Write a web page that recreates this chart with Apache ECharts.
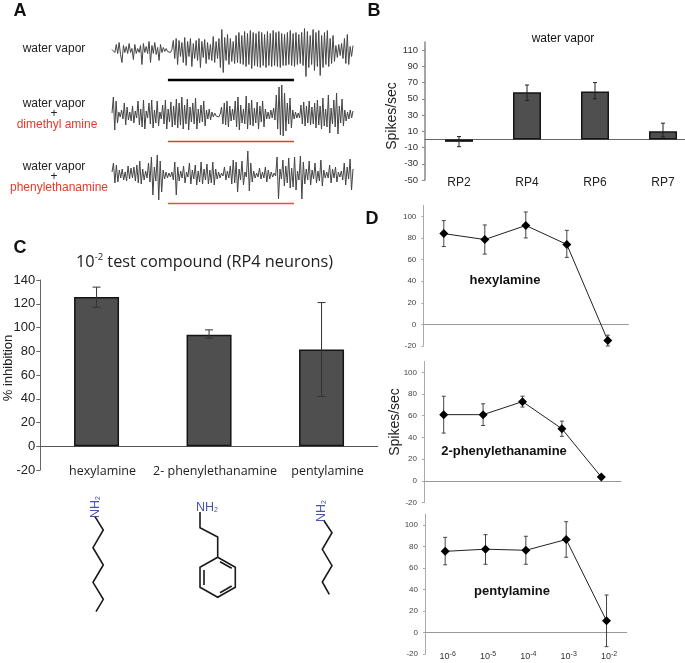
<!DOCTYPE html>
<html><head><meta charset="utf-8">
<style>html,body{margin:0;padding:0;background:#fff}#c{width:685px;height:663px}</style>
<script src="https://cdn.jsdelivr.net/npm/echarts@6/dist/echarts.min.js"></script>
</head><body><div id="c"></div>
<script>
// ---------- Panel A: recordings
const traceVapor = [1,3,-2,6,-3,8,-4,-12,5,-2,4,-3,7,-2,2,-9,6,-3,2,-2,5,-14,7,-2,4,-3,9,-12,5,-3,8,-4,3,-10,6,-2,3,-1,2,-1,1,-2,1,
10,-8,12,-14,10,-6,8,-12,13,-15,9,-6,12,-16,7,-8,10,-10,12,-17,9,-7,11,-13,8,-9,6,-10,14,-12,9,-8,12,-17,21,-22,13,-10,16,-14,12,-11,9,-13,15,-12,
18,-13,15,-14,19,-16,17,-14,20,-18,18,-15,17,-16,19,-17,18,-15,16,-17,19,-15,17,-16,20,-15,18,-16,19,-17,17,-15,16,-15,18,-14,20,-15,17,-16,18,-14,16,-13,18,-15,22,-26,19,-17,15,-14,21,-20,18,-16,20,-25,15,-17,18,-14,20,-16,12,-13,15,-11,5,-7,6,-5,7,-8,12,-13,16,-14,4,-6,5];
const traceDimethyl = [2,18,-15,14,-8,3,-2,5,-4,12,-10,8,-5,3,-6,9,-8,4,-3,14,-10,6,-12,15,-14,4,-3,12,-9,15,-13,5,-8,14,-11,3,-4,10,-9,15,-14,6,-7,13,-12,9,-10,16,-13,12,-10,18,-14,10,-9,16,-15,8,-7,12,-9,17,-14,6,-8,10,-7,14,-11,5,-4,6,-5,3,-2,2,-1,1,-2,1,8,-9,12,-10,14,-12,9,-6,6,-5,14,-12,18,-15,10,-8,6,-9,19,-14,12,-10,15,-11,7,-8,13,-14,9,-7,14,-12,6,-4,3,-4,5,-3,7,-5,20,-14,28,-20,30,-21,22,-16,12,-9,17,-13,5,-4,3,-3,2,-3,10,-9,13,-11,9,-8,14,-10,8,-9,12,-13,15,-10,9,-14,17,-11,6,-12,20,-18,7,-9,15,-12,22,-19,9,-8,16,-11,5,-6,3,-4,5,-3,4];
const tracePhenyl = [3,12,-8,10,-7,5,-3,6,-5,3,-6,9,-4,7,-3,8,-6,10,-8,14,-9,6,-5,4,-3,12,-7,18,-20,8,-6,20,-25,14,-17,5,-4,3,-3,2,-2,3,-5,13,-20,8,-6,4,-3,9,-8,3,-2,12,-9,5,-4,10,-10,4,-7,13,-9,6,-5,11,-9,5,-8,13,-10,6,-4,3,-3,2,-1,8,-5,4,-3,9,-9,15,-8,13,-17,6,-5,14,-10,3,-2,24,-16,12,-7,4,-3,2,-2,7,-4,3,-3,8,-7,5,-4,3,-2,2,-1,18,-24,6,-4,15,-11,9,-8,17,-13,7,-12,18,-15,4,-5,19,-24,13,-9,6,-5,14,-10,5,-4,12,-8,4,-6,15,-11,5,-3,3,-3,10,-8,6,-3,8,-7,3,-2,4,-5,12,-10,8,-4,16,-15,6];
const stimulusWindow = [0.232, 0.755];

// ---------- Panel B
const neurons = ['RP2','RP4','RP6','RP7'];
const vaporMean = [-3,58,59,10];
const vaporLow  = [-9,48,50,3];
const vaporHigh = [3.5,67,70,20];
const vaporTicks = [-50,-30,-10,10,30,50,70,90,110];

// ---------- Panel C
const compounds = ['hexylamine','2- phenylethanamine','pentylamine'];
const inhibMean = [125.6,94,81.5];
const inhibLow  = [117,91,42];
const inhibHigh = [134,98,121];

// ---------- Panel D
const doses = ['-6','-5','-4','-3','-2'];
const doseTicks = [-20,0,20,40,60,80,100];
const hexMean = [84,78.5,91.5,74,-15];
const hexLow  = [72,65,80,62,-20];
const hexHigh = [96,92,104,87,-10];
const pheMean = [61,61,73,48,3.5];
const pheLow  = [44,51,68,41,2];
const pheHigh = [78,71,78,55,5];
const penMean = [75.5,77.5,76.5,86.5,11];
const penLow  = [63,63.5,63.5,70,-13];
const penHigh = [88.5,91,89.5,103,35];

const SANS = '"Liberation Sans", Arial, sans-serif';
const grids = [], xAxes = [], yAxes = [], series = [];

function errorSeries(g, low, high, color, cap, w) {
  return {
    type:'custom', xAxisIndex:g, yAxisIndex:g, z:5, silent:true, clip:false,
    encode:{x:0,y:[1,2]},
    data: low.map((l,i)=>[i,l,high[i]]),
    renderItem(params, api){
      const a = api.coord([api.value(0), api.value(1)]);
      const b = api.coord([api.value(0), api.value(2)]);
      const st = {stroke:color, lineWidth:w, fill:null};
      return {type:'group', children:[
        {type:'line', shape:{x1:a[0],y1:a[1],x2:b[0],y2:b[1]}, style:st},
        {type:'line', shape:{x1:a[0]-cap,y1:a[1],x2:a[0]+cap,y2:a[1]}, style:st},
        {type:'line', shape:{x1:b[0]-cap,y1:b[1],x2:b[0]+cap,y2:b[1]}, style:st}
      ]};
    }
  };
}

// Panel A grids
[[traceVapor,50.5,'#000',2.5,-29.5],[traceDimethyl,115,'#e8392b',1.5,-26.5],[tracePhenyl,175,'#e8503f',1.5,-28.5]].forEach(([tr,cy,col,w,lvl])=>{
  const g = grids.length, n = tr.length-1;
  grids.push({left:112, width:241, top:cy-35, height:70, outerBoundsMode:'none'});
  xAxes.push({gridIndex:g, type:'value', min:0, max:n, show:false});
  yAxes.push({gridIndex:g, type:'value', min:-35, max:35, show:false});
  series.push({type:'line', xAxisIndex:g, yAxisIndex:g, showSymbol:false, silent:true,
    data:tr.map((v,i)=>[i,v]), lineStyle:{color:'#444', width:1}});
  series.push({type:'line', xAxisIndex:g, yAxisIndex:g, showSymbol:false, silent:true,
    data:stimulusWindow.map(f=>[f*n,lvl]), lineStyle:{color:col, width:w}});
});

// Panel B
{
  const g = grids.length;
  grids.push({left:425, top:42, width:272, height:138, outerBoundsMode:'none'});
  xAxes.push({gridIndex:g, type:'category', data:neurons,
    axisLine:{onZero:true, lineStyle:{color:'#666', width:1}},
    axisTick:{length:2, lineStyle:{color:'#999'}},
    axisLabel:{margin:-3, fontFamily:SANS, fontSize:12, color:'#222'}});
  yAxes.push({gridIndex:g, type:'value', min:-50, max:120, splitLine:{show:false},
    name:'Spikes/sec', nameLocation:'middle', nameGap:26, nameMoveOverlap:false,
    nameTextStyle:{fontFamily:SANS, fontSize:14, color:'#222', padding:[0,10,0,0]},
    axisLine:{show:true, lineStyle:{color:'#888', width:1.5}},
    axisTick:{show:true, length:3, customValues:vaporTicks, lineStyle:{color:'#888'}},
    axisLabel:{customValues:vaporTicks, fontFamily:SANS, fontSize:9.5, color:'#333', margin:7}});
  series.push({type:'bar', xAxisIndex:g, yAxisIndex:g, data:vaporMean, barWidth:28, silent:true,
    itemStyle:{color:'#4f4f4f', borderColor:'#151515', borderWidth:1.5}});
  series.push(errorSeries(g, vaporLow, vaporHigh, '#222', 2, 1));
}

// Panel C
{
  const g = grids.length;
  grids.push({left:40.3, top:280, width:337.5, height:190, outerBoundsMode:'none'});
  xAxes.push({gridIndex:g, type:'category', data:compounds,
    axisLine:{onZero:true, lineStyle:{color:'#555', width:1}},
    axisTick:{length:3, lineStyle:{color:'#999'}},
    axisLabel:{margin:-5, interval:0, padding:[0,0,0,12], fontFamily:'"Open Sans", sans-serif', fontSize:12.5, color:'#222'}});
  yAxes.push({gridIndex:g, type:'value', min:-20, max:140, interval:20, splitLine:{show:false},
    name:'% inhibition', nameLocation:'middle', nameGap:25, nameMoveOverlap:false,
    nameTextStyle:{fontFamily:SANS, fontSize:13, color:'#222', padding:[0,0,0,14]},
    axisLine:{show:true, lineStyle:{color:'#666', width:1}},
    axisTick:{show:true, length:4, lineStyle:{color:'#666'}},
    axisLabel:{fontFamily:SANS, fontSize:13, color:'#222', margin:5}});
  series.push({type:'bar', xAxisIndex:g, yAxisIndex:g, data:inhibMean, barWidth:45, silent:true,
    itemStyle:{color:'#4f4f4f', borderColor:'#151515', borderWidth:1.5}});
  series.push(errorSeries(g, inhibLow, inhibHigh, '#333', 4, 1));
}

// Panel D
[[423.3,205.5,205,140.5,hexMean,hexLow,hexHigh,false],
 [424,361.5,197,141,pheMean,pheLow,pheHigh,false],
 [425,514.2,201.7,140,penMean,penLow,penHigh,true]].forEach(([l,t,w,h,m,lo,hi,lab],k)=>{
  const g = grids.length;
  grids.push({left:l, top:t, width:w, height:h, outerBoundsMode:'none'});
  xAxes.push({gridIndex:g, type:'category', data:doses,
    axisLine:{onZero:true, lineStyle:{color:'#999', width:1}},
    axisTick:{length:3, lineStyle:{color:'#888'}},
    axisLabel:{show:lab, interval:0, margin:-4, padding:[0,0,0,5], color:'#333', fontFamily:SANS, fontSize:9,
      formatter:v=>`{b|10}{s|${v}}`,
      rich:{b:{fontSize:9, fontFamily:SANS, color:'#333'}, s:{fontSize:7, fontFamily:SANS, color:'#333', padding:[0,0,5,0]}}}});
  yAxes.push({gridIndex:g, type:'value', min:-20, max:110, splitLine:{show:false},
    name:k===1?'Spikes/sec':'', nameLocation:'middle', nameGap:22, nameMoveOverlap:false,
    nameTextStyle:{fontFamily:SANS, fontSize:14, color:'#222', padding:[0,0,0,20]},
    axisLine:{show:true, lineStyle:{color:'#aaa', width:1}},
    axisTick:{show:true, length:2, customValues:doseTicks, lineStyle:{color:'#aaa'}},
    axisLabel:{customValues:doseTicks, fontFamily:SANS, fontSize:8, color:'#444', margin:7}});
  series.push(errorSeries(g, lo, hi, '#444', 2, 1));
  series.push({type:'line', xAxisIndex:g, yAxisIndex:g, data:m, silent:true, z:6,
    symbol:'diamond', symbolSize:9, showSymbol:true,
    itemStyle:{color:'#000'}, lineStyle:{color:'#222', width:1}});
});

// free text
const titleBits = [
  {text:'water vapor', x:563, y:39, size:12},
  {text:'hexylamine', x:505, y:280, size:13, bold:true},
  {text:'2-phenylethanamine', x:504, y:451, size:13, bold:true},
  {text:'pentylamine', x:512, y:591, size:13, bold:true}
];
const title = titleBits.map(t=>({
  text:t.text, left:t.x, top:t.y, textAlign:'center', textVerticalAlign:'middle', padding:0,
  textStyle:{fontFamily:SANS, fontSize:t.size, fontWeight:t.bold?'bold':'normal', color:'#111'}
}));
title.push({
  text:'{a|10}{s|-2}{a| test compound (RP4 neurons)}', left:204.5, top:262, textAlign:'center', textVerticalAlign:'middle', padding:0,
  textStyle:{fontWeight:'normal', rich:{a:{fontFamily:'"Open Sans", sans-serif', fontWeight:'normal', fontSize:16.3, color:'#222'},
    s:{fontFamily:'"Open Sans", sans-serif', fontWeight:'normal', fontSize:9.5, color:'#222', padding:[0,0,9,0]}}}
});

function label(text,x,y,size,color,weight){
  return {type:'text', x, y, silent:true, style:{text, fontFamily:SANS, fontSize:size, fontWeight:weight||'normal',
    fill:color||'#222', textAlign:'center', textVerticalAlign:'middle'}};
}
const RED = '#e8392b', BLUE = '#4a52b5', BOND = '#1a1a1a';
function bond(points){
  return {type:'polyline', silent:true, shape:{points}, style:{stroke:BOND, lineWidth:1.6, fill:null}};
}
function nh2(x,y,rot){
  return {type:'text', x, y, rotation:rot, silent:true, style:{
    text:'{n|NH}{t|2}', textAlign:'center', textVerticalAlign:'middle',
    rich:{n:{fontFamily:SANS, fontSize:12.5, fill:BLUE, color:BLUE}, t:{fontFamily:SANS, fontSize:7, fill:BLUE, color:BLUE, padding:[5,0,0,0]}}}};
}
const graphic = [
  label('A',20,11,18,'#111','bold'), label('B',374,11,18,'#111','bold'),
  label('C',20,248,18,'#111','bold'), label('D',372,219,18,'#111','bold'),
  label('water vapor',54,49,12), label('water vapor',54,104,12), label('+',54,114,12),
  label('dimethyl amine',57,124.7,12,RED),
  label('water vapor',54,166.7,12), label('+',54,176.7,12),
  label('phenylethanamine',59,187.7,12,RED),
  nh2(96,507,Math.PI/2), nh2(207,508,0), nh2(322,511,Math.PI/2),
  bond([[95,516.7],[103.3,530],[93,547.7],[103.3,565],[93,582.3],[103.3,599.3],[96,611.7]]),
  bond([[200,512],[200,527.7],[217.7,537],[217.7,557.3],[235.3,567.3],[235.3,587.3],[217.7,597.3],[200,587.3],[200,567.3],[217.7,557.3]]),
  bond([[220,561.7],[231.7,568.3]]), bond([[204,570],[204,585]]), bond([[220,592.7],[231.7,586]]),
  bond([[324,520.7],[332,532.7],[322.3,549.3],[332,565.7],[322.3,582],[329.3,594.3]])
];

const chart = echarts.init(document.getElementById('c'), null, {renderer:'canvas'});
chart.setOption({animation:false, backgroundColor:'#fff', title, grid:grids, xAxis:xAxes, yAxis:yAxes, series, graphic});
</script></body></html>
